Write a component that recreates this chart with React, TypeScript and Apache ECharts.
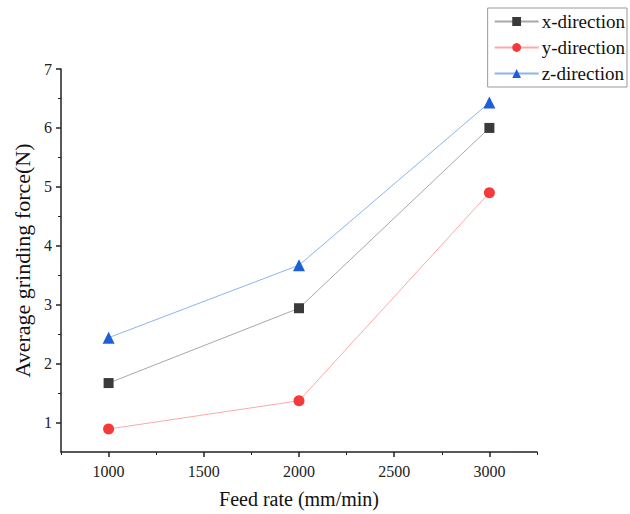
import React, { useEffect, useRef } from "react";
import * as echarts from "echarts";

const feedRates = [1000, 2000, 3000];
const xDirection = [1.67, 2.94, 6.0];
const yDirection = [0.89, 1.37, 4.9];
const zDirection = [2.44, 3.67, 6.43];
const xMajorTicks = [1000, 1500, 2000, 2500, 3000];
const xMinorTicks = [750, 1250, 1750, 2250, 2750, 3250];
const yMajorTicks = [1, 2, 3, 4, 5, 6, 7];
const yMinorTicks = [1.5, 2.5, 3.5, 4.5, 5.5, 6.5];

const FONT = "Liberation Serif";

export default function App() {
  const ref = useRef<HTMLDivElement>(null);
  useEffect(() => {
    if (!ref.current) return;
    const chart = echarts.init(ref.current, undefined, { renderer: "svg" });
    const pair = (ys: number[]) => feedRates.map((x, i) => [x, ys[i]]);
    const baseX = {
      type: "value",
      min: 750,
      max: 3250,
      interval: 250,
      splitLine: { show: false },
    };
    const baseY = {
      type: "value",
      min: 0.5,
      max: 7,
      interval: 0.5,
      splitLine: { show: false },
    };
    chart.setOption({
      animation: false,
      backgroundColor: "#fff",
      textStyle: { fontFamily: FONT },
      grid: { left: 61, right: 93, top: 69, bottom: 61 },
      legend: {
        orient: "vertical",
        right: 3,
        top: 8,
        borderColor: "#999",
        borderWidth: 1,
        borderRadius: 0,
        padding: [4, 2, 4, 6],
        itemGap: 7,
        itemWidth: 44,
        itemHeight: 11,
        textStyle: { fontFamily: FONT, fontSize: 19, color: "#111", padding: [0, 0, 0, -2] },
        data: ["x-direction", "y-direction", "z-direction"],
      },
      xAxis: [
        {
          ...baseX,
          name: "Feed rate (mm/min)",
          nameLocation: "middle",
          nameGap: 37,
          nameTextStyle: { fontFamily: FONT, fontSize: 20, color: "#111" },
          axisLine: { lineStyle: { color: "#222", width: 1.5 } },
          axisTick: { customValues: xMajorTicks, length: 5, lineStyle: { color: "#222", width: 1.5 } },
          axisLabel: {
            showMinLabel: true,
            showMaxLabel: true,
            formatter: (v: number) => (xMajorTicks.indexOf(v) >= 0 ? String(v) : ""),
            fontFamily: FONT,
            fontSize: 16,
            color: "#222",
            margin: 11,
          },
        },
        {
          ...baseX,
          position: "bottom",
          axisLine: { show: false },
          axisTick: { customValues: xMinorTicks, length: 3, lineStyle: { color: "#222", width: 1 } },
          axisLabel: { show: false },
        },
      ],
      yAxis: [
        {
          ...baseY,
          name: "Average grinding force(N)",
          nameLocation: "middle",
          nameGap: 18,
          nameTextStyle: { fontFamily: FONT, fontSize: 22, color: "#111" },
          axisLine: { show: true, lineStyle: { color: "#222", width: 1.5 } },
          axisTick: { show: true, customValues: yMajorTicks, length: 5, lineStyle: { color: "#222", width: 1.5 } },
          axisLabel: {
            formatter: (v: number) => (yMajorTicks.indexOf(v) >= 0 ? String(v) : ""),
            fontFamily: FONT,
            fontSize: 16,
            color: "#222",
            margin: 9,
          },
        },
        {
          ...baseY,
          position: "left",
          axisLine: { show: false },
          axisTick: { show: true, customValues: yMinorTicks, length: 3, lineStyle: { color: "#222", width: 1 } },
          axisLabel: { show: false },
        },
      ],
      series: [
        {
          name: "x-direction",
          type: "line",
          data: pair(xDirection),
          symbol: "rect",
          symbolSize: 10,
          itemStyle: { color: "#3a3a3a" },
          lineStyle: { color: "#a8a8a8", width: 1 },
        },
        {
          name: "y-direction",
          type: "line",
          data: pair(yDirection),
          symbol: "circle",
          symbolSize: 11,
          itemStyle: { color: "#f43a3a" },
          lineStyle: { color: "#ffa8a8", width: 1 },
        },
        {
          name: "z-direction",
          type: "line",
          data: pair(zDirection),
          symbol: "triangle",
          symbolSize: 12,
          itemStyle: { color: "#1f5fd6" },
          lineStyle: { color: "#8cb4ee", width: 1 },
        },
      ],
    });
    return () => chart.dispose();
  }, []);
  return <div ref={ref} style={{ width: 630, height: 514, position: "absolute", left: 0, top: 0 }} />;
}
